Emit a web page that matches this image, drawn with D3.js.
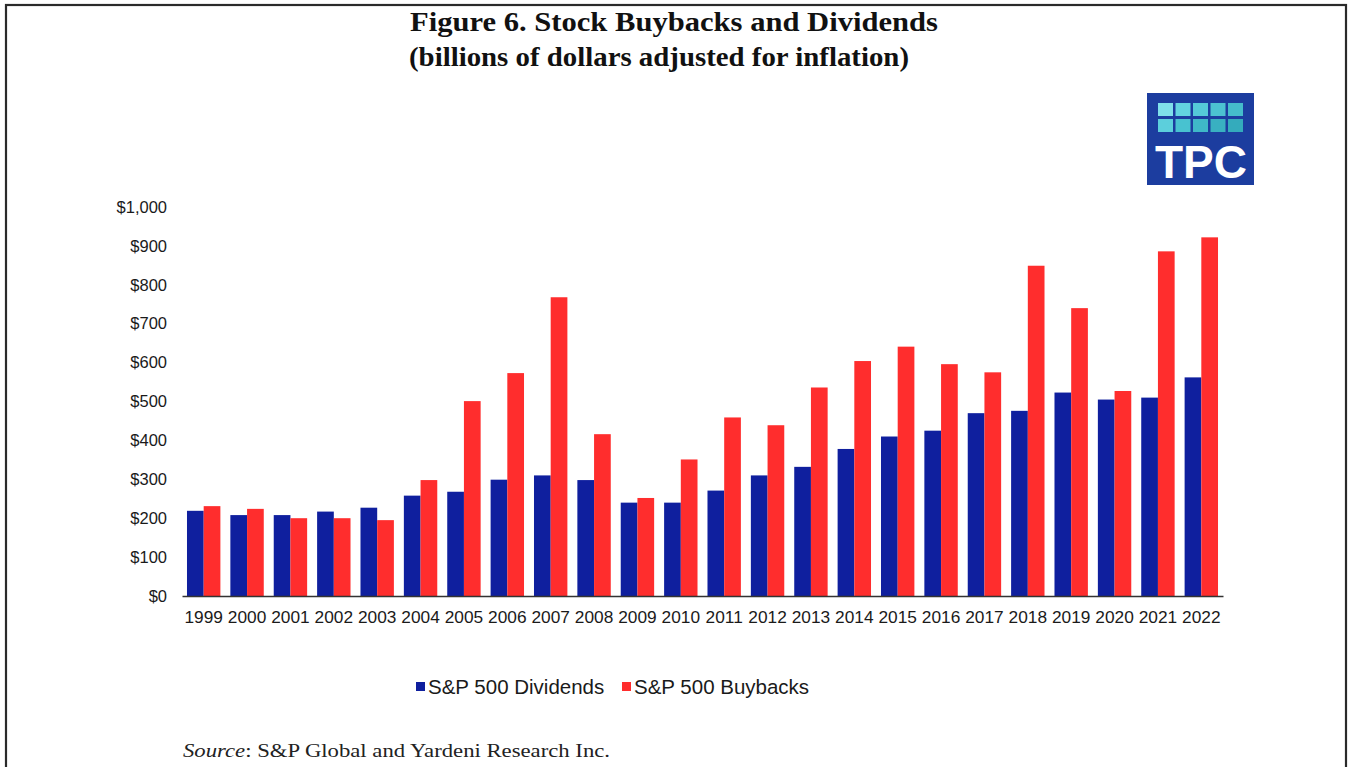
<!DOCTYPE html>
<html>
<head>
<meta charset="utf-8">
<script src="https://cdn.jsdelivr.net/npm/d3@7"></script>
<style>
  html, body { margin: 0; padding: 0; background: #fff; }
  svg { display: block; }
</style>
</head>
<body>
<svg id="chart" width="1349" height="767"></svg>
<script>
const years = ["1999","2000","2001","2002","2003","2004","2005","2006","2007","2008","2009","2010","2011","2012","2013","2014","2015","2016","2017","2018","2019","2020","2021","2022"];
const dividends = [219, 208, 208, 217, 227, 258, 268, 299, 310, 298, 240, 240, 271, 310, 332, 378, 410, 425, 470, 476, 523, 505, 510, 562];
const buybacks  = [231, 224, 200, 200, 195, 298, 501, 573, 768, 416, 252, 351, 459, 439, 536, 604, 641, 596, 575, 849, 740, 527, 886, 922];
const seriesNames = ["S&P 500 Dividends", "S&P 500 Buybacks"];
const yTicks = [0, 100, 200, 300, 400, 500, 600, 700, 800, 900, 1000];
const titleLines = ["Figure 6. Stock Buybacks and Dividends", "(billions of dollars adjusted for inflation)"];

const colors = ["#0f1f9e", "#ff2d2d"];
const svg = d3.select("#chart");

// frame
svg.append("rect").attr("x", 6).attr("y", 5).attr("width", 1340).attr("height", 800)
  .attr("fill", "#fff").attr("stroke", "#2a2a2a").attr("stroke-width", 2.2);

// title
const tl = svg.append("g").attr("font-family", "Liberation Serif, serif").attr("font-weight", "bold")
  .attr("font-size", 28).attr("fill", "#111").attr("text-anchor", "middle");
tl.append("text").attr("x", 674).attr("y", 31).attr("textLength", 528).attr("lengthAdjust", "spacingAndGlyphs").text(titleLines[0]);
tl.append("text").attr("x", 659).attr("y", 66).attr("textLength", 500).attr("lengthAdjust", "spacingAndGlyphs").text(titleLines[1]);

// logo
const logo = svg.append("g");
logo.append("rect").attr("x", 1147).attr("y", 93).attr("width", 107).attr("height", 92).attr("fill", "#1c3d9f");
const sqCols = [["#7fe0ea","#5ccfdc"],["#63d4e0","#48c2d0"],["#55cad8","#3fb8c8"],["#4cc2d1","#39b0c1"],["#45bccb","#34abbc"]];
for (let c = 0; c < 5; c++) {
  for (let r = 0; r < 2; r++) {
    logo.append("rect").attr("x", 1158 + c * 17.5).attr("y", 103 + r * 16)
      .attr("width", 15).attr("height", 13).attr("fill", sqCols[c][r]);
  }
}
logo.append("text").attr("x", 1201).attr("y", 178).attr("text-anchor", "middle")
  .attr("font-family", "Liberation Sans, Arial, sans-serif").attr("font-weight", "bold")
  .attr("font-size", 46).attr("fill", "#fff").text("TPC");

// scales
const x0 = d3.scaleBand().domain(years).range([182, 1223]).paddingInner(0.23).paddingOuter(0.115);
const x1 = d3.scaleBand().domain([0, 1]).range([0, x0.bandwidth()]);
const y = d3.scaleLinear().domain([0, 1000]).range([596, 207]);

// bars
const groups = svg.append("g").selectAll("g").data(years).join("g")
  .attr("transform", d => `translate(${x0(d)},0)`);
groups.selectAll("rect").data((d, i) => [dividends[i], buybacks[i]]).join("rect")
  .attr("x", (d, j) => x1(j))
  .attr("width", x1.bandwidth())
  .attr("y", d => y(d))
  .attr("height", d => y(0) - y(d))
  .attr("fill", (d, j) => colors[j]);

// y axis
const yAxis = svg.append("g").attr("transform", "translate(182,0)")
  .call(d3.axisLeft(y).tickValues(yTicks).tickSize(0).tickPadding(15)
    .tickFormat(d => "$" + d3.format(",")(d)));
yAxis.select(".domain").remove();
yAxis.selectAll("text").attr("font-family", "Liberation Sans, Arial, sans-serif").attr("font-size", 16.5).attr("fill", "#1a1a1a");

// x axis
const xAxis = svg.append("g").attr("transform", "translate(0,596)")
  .call(d3.axisBottom(x0).tickSize(0).tickPadding(15));
xAxis.select(".domain").attr("stroke", "#333").attr("stroke-width", 1.6);
xAxis.selectAll("text").attr("font-family", "Liberation Sans, Arial, sans-serif").attr("font-size", 17.3).attr("fill", "#1a1a1a");

// legend
const legX = [416, 622];
const lg = svg.append("g");
seriesNames.forEach((n, i) => {
  lg.append("rect").attr("x", legX[i]).attr("y", 682).attr("width", 9).attr("height", 9).attr("fill", colors[i]);
  lg.append("text").attr("x", legX[i] + 12).attr("y", 694)
    .attr("font-family", "Liberation Sans, Arial, sans-serif").attr("font-size", 20.5).attr("fill", "#1a1a1a").text(n);
});

// source
const src = svg.append("text").attr("x", 183).attr("y", 757)
  .attr("font-family", "Liberation Serif, serif").attr("font-size", 19).attr("fill", "#222")
  .attr("textLength", 427).attr("lengthAdjust", "spacingAndGlyphs");
src.append("tspan").attr("font-style", "italic").text("Source");
src.append("tspan").text(": S&P Global and Yardeni Research Inc.");
</script>
</body>
</html>
